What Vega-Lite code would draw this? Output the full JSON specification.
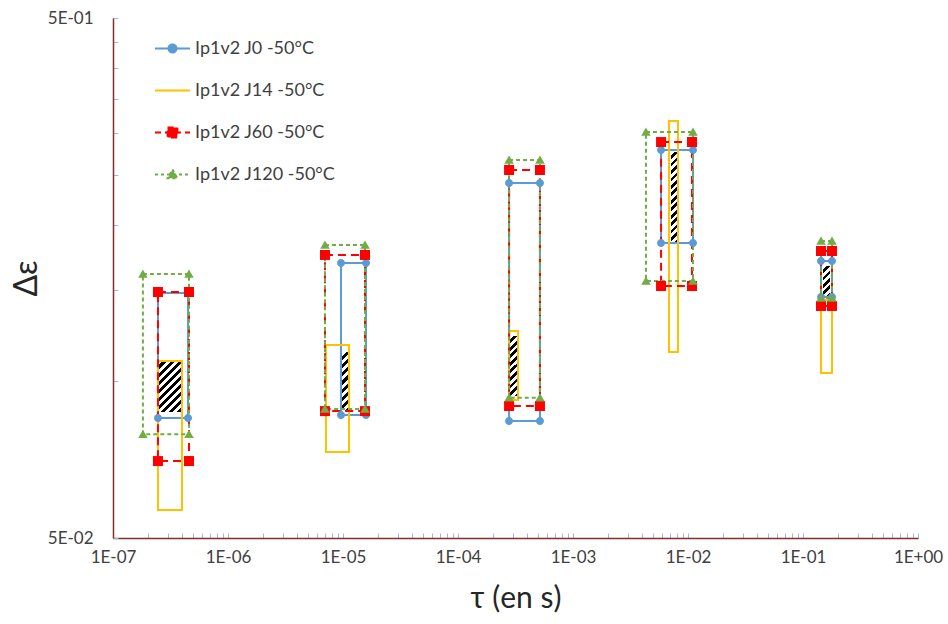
{
  "$schema": "https://vega.github.io/schema/vega-lite/v6.json",
  "width": 805,
  "height": 520,
  "autosize": {"type": "none"},
  "padding": {"left": 113, "top": 18, "right": 30, "bottom": 86},
  "background": "white",
  "config": {"view": {"stroke": null}, "font": "Lato"},
  "datasets": {
    "boxes": [
      {"cluster": 1, "series": "Ip1v2 J0 -50°C", "x1": 2.46e-7, "x2": 4.49e-7, "y1": 0.0851, "y2": 0.148},
      {"cluster": 1, "series": "Ip1v2 J14 -50°C", "x1": 2.46e-7, "x2": 3.98e-7, "y1": 0.0566, "y2": 0.1095},
      {"cluster": 1, "series": "Ip1v2 J60 -50°C", "x1": 2.46e-7, "x2": 4.58e-7, "y1": 0.0703, "y2": 0.1486},
      {"cluster": 1, "series": "Ip1v2 J120 -50°C", "x1": 1.82e-7, "x2": 4.58e-7, "y1": 0.0792, "y2": 0.161},
      {"cluster": 2, "series": "Ip1v2 J0 -50°C", "x1": 9.61e-6, "x2": 1.585e-5, "y1": 0.0862, "y2": 0.169},
      {"cluster": 2, "series": "Ip1v2 J14 -50°C", "x1": 7.11e-6, "x2": 1.128e-5, "y1": 0.0732, "y2": 0.1175},
      {"cluster": 2, "series": "Ip1v2 J60 -50°C", "x1": 6.97e-6, "x2": 1.554e-5, "y1": 0.0877, "y2": 0.1751},
      {"cluster": 2, "series": "Ip1v2 J120 -50°C", "x1": 6.97e-6, "x2": 1.554e-5, "y1": 0.0885, "y2": 0.183},
      {"cluster": 3, "series": "Ip1v2 J0 -50°C", "x1": 2.78e-4, "x2": 5.16e-4, "y1": 0.0839, "y2": 0.2408},
      {"cluster": 3, "series": "Ip1v2 J14 -50°C", "x1": 2.78e-4, "x2": 3.33e-4, "y1": 0.0921, "y2": 0.125},
      {"cluster": 3, "series": "Ip1v2 J60 -50°C", "x1": 2.78e-4, "x2": 5.16e-4, "y1": 0.0897, "y2": 0.2551},
      {"cluster": 3, "series": "Ip1v2 J120 -50°C", "x1": 2.78e-4, "x2": 5.16e-4, "y1": 0.093, "y2": 0.2667},
      {"cluster": 4, "series": "Ip1v2 J0 -50°C", "x1": 5.83e-3, "x2": 1.105e-2, "y1": 0.1847, "y2": 0.2787},
      {"cluster": 4, "series": "Ip1v2 J14 -50°C", "x1": 6.84e-3, "x2": 8.19e-3, "y1": 0.1139, "y2": 0.3169},
      {"cluster": 4, "series": "Ip1v2 J60 -50°C", "x1": 5.83e-3, "x2": 1.083e-2, "y1": 0.1526, "y2": 0.2887},
      {"cluster": 4, "series": "Ip1v2 J120 -50°C", "x1": 4.31e-3, "x2": 1.105e-2, "y1": 0.1561, "y2": 0.3018},
      {"cluster": 5, "series": "Ip1v2 J0 -50°C", "x1": 0.1434, "x2": 0.1787, "y1": 0.1454, "y2": 0.1705},
      {"cluster": 5, "series": "Ip1v2 J14 -50°C", "x1": 0.1434, "x2": 0.1787, "y1": 0.1038, "y2": 0.1434},
      {"cluster": 5, "series": "Ip1v2 J60 -50°C", "x1": 0.1434, "x2": 0.1787, "y1": 0.1397, "y2": 0.1782},
      {"cluster": 5, "series": "Ip1v2 J120 -50°C", "x1": 0.1434, "x2": 0.1787, "y1": 0.1447, "y2": 0.1863}
    ],
    "hatch": [
      {"cluster": 1, "x1": 2.51e-7, "x2": 3.9e-7, "y1": 0.0874, "y2": 0.1095},
      {"cluster": 2, "x1": 9.8e-6, "x2": 1.128e-5, "y1": 0.0877, "y2": 0.1139},
      {"cluster": 3, "x1": 2.83e-4, "x2": 3.33e-4, "y1": 0.0938, "y2": 0.1223},
      {"cluster": 4, "x1": 7.11e-3, "x2": 8.02e-3, "y1": 0.1847, "y2": 0.2762},
      {"cluster": 5, "x1": 0.1493, "x2": 0.1717, "y1": 0.146, "y2": 0.1668}
    ]
  },
  "layer": [
    {
      "data": {"name": "hatch"},
      "transform": [{"filter": "datum.cluster == 1"}],
      "mark": {"type": "rect", "fill": {"gradient": "linear", "x1": 0, "y1": 0, "x2": 0.5206, "y2": 1.2068, "stops": [
        {"offset": 0, "color": "#fff"}, {"offset": 0.0556, "color": "#fff"}, {"offset": 0.0556, "color": "#000"}, {"offset": 0.1111, "color": "#000"},
        {"offset": 0.1111, "color": "#fff"}, {"offset": 0.1667, "color": "#fff"}, {"offset": 0.1667, "color": "#000"}, {"offset": 0.2222, "color": "#000"},
        {"offset": 0.2222, "color": "#fff"}, {"offset": 0.2778, "color": "#fff"}, {"offset": 0.2778, "color": "#000"}, {"offset": 0.3333, "color": "#000"},
        {"offset": 0.3333, "color": "#fff"}, {"offset": 0.3889, "color": "#fff"}, {"offset": 0.3889, "color": "#000"}, {"offset": 0.4444, "color": "#000"},
        {"offset": 0.4444, "color": "#fff"}, {"offset": 0.5, "color": "#fff"}, {"offset": 0.5, "color": "#000"}, {"offset": 0.5556, "color": "#000"},
        {"offset": 0.5556, "color": "#fff"}, {"offset": 0.6111, "color": "#fff"}, {"offset": 0.6111, "color": "#000"}, {"offset": 0.6667, "color": "#000"},
        {"offset": 0.6667, "color": "#fff"}, {"offset": 0.7222, "color": "#fff"}, {"offset": 0.7222, "color": "#000"}, {"offset": 0.7778, "color": "#000"},
        {"offset": 0.7778, "color": "#fff"}, {"offset": 0.8333, "color": "#fff"}, {"offset": 0.8333, "color": "#000"}, {"offset": 0.8889, "color": "#000"},
        {"offset": 0.8889, "color": "#fff"}, {"offset": 0.9444, "color": "#fff"}, {"offset": 0.9444, "color": "#000"}, {"offset": 1, "color": "#000"}]}},
      "encoding": {
        "x": {"field": "x1", "type": "quantitative", "scale": {"type": "log", "domain": [1e-7, 1], "nice": false},
          "axis": {
            "values": [1e-7, 2e-7, 3e-7, 4e-7, 5e-7, 6e-7, 7e-7, 8e-7, 9e-7, 1e-6, 2e-6, 3e-6, 4e-6, 5e-6, 6e-6, 7e-6, 8e-6, 9e-6, 1e-5, 2e-5, 3e-5, 4e-5, 5e-5, 6e-5, 7e-5, 8e-5, 9e-5, 1e-4, 2e-4, 3e-4, 4e-4, 5e-4, 6e-4, 7e-4, 8e-4, 9e-4, 0.001, 0.002, 0.003, 0.004, 0.005, 0.006, 0.007, 0.008, 0.009, 0.01, 0.02, 0.03, 0.04, 0.05, 0.06, 0.07, 0.08, 0.09, 0.1, 0.2, 0.3, 0.4, 0.5, 0.6, 0.7, 0.8, 0.9, 1],
            "labelExpr": "abs(log(datum.value)/LN10 - round(log(datum.value)/LN10)) < 1e-6 ? ('1E' + (round(log(datum.value)/LN10) < 0 ? '-0' + (-round(log(datum.value)/LN10)) : '+00')) : ''",
            "title": "τ (en s)", "titleFont": "Lato", "titleFontSize": 30, "titleFontWeight": "normal", "titleColor": "#262626", "titlePadding": 18,
            "labelFont": "Lato", "labelFontSize": 17, "labelColor": "#404040", "labelPadding": 16, "labelFlush": false, "labelOverlap": false,
            "tickSize": -5, "tickColor": "#9bbbe0", "domainColor": "#8a2b2b", "domainWidth": 1.5, "grid": false
          }},
        "x2": {"field": "x2"},
        "y": {"field": "y1", "type": "quantitative", "scale": {"type": "log", "domain": [0.05, 0.5], "nice": false},
          "axis": {
            "values": [0.05, 0.1, 0.15, 0.2, 0.25, 0.3, 0.35, 0.4, 0.45, 0.5],
            "labelExpr": "abs(datum.value - 0.05) < 1e-9 ? '5E-02' : (abs(datum.value - 0.5) < 1e-9 ? '5E-01' : '')",
            "title": "Δε", "titleFont": "Lato", "titleFontSize": 32, "titleFontWeight": "normal", "titleColor": "#262626", "titlePadding": 4,
            "labelFont": "Lato", "labelFontSize": 17, "labelColor": "#404040", "labelPadding": 25, "labelFlush": false, "labelOverlap": false,
            "tickSize": -5, "tickColor": "#9bbbe0", "domainColor": "#8a2b2b", "domainWidth": 1.5, "grid": false
          }},
        "y2": {"field": "y2"}
      }
    },
    {
      "data": {"name": "hatch"},
      "transform": [{"filter": "datum.cluster == 2"}],
      "mark": {"type": "rect", "fill": {"gradient": "linear", "x1": 0, "y1": 0, "x2": 0.1309, "y2": 1.1031, "stops": [
        {"offset": 0, "color": "#fff"}, {"offset": 0.0625, "color": "#fff"}, {"offset": 0.0625, "color": "#000"}, {"offset": 0.125, "color": "#000"},
        {"offset": 0.125, "color": "#fff"}, {"offset": 0.1875, "color": "#fff"}, {"offset": 0.1875, "color": "#000"}, {"offset": 0.25, "color": "#000"},
        {"offset": 0.25, "color": "#fff"}, {"offset": 0.3125, "color": "#fff"}, {"offset": 0.3125, "color": "#000"}, {"offset": 0.375, "color": "#000"},
        {"offset": 0.375, "color": "#fff"}, {"offset": 0.4375, "color": "#fff"}, {"offset": 0.4375, "color": "#000"}, {"offset": 0.5, "color": "#000"},
        {"offset": 0.5, "color": "#fff"}, {"offset": 0.5625, "color": "#fff"}, {"offset": 0.5625, "color": "#000"}, {"offset": 0.625, "color": "#000"},
        {"offset": 0.625, "color": "#fff"}, {"offset": 0.6875, "color": "#fff"}, {"offset": 0.6875, "color": "#000"}, {"offset": 0.75, "color": "#000"},
        {"offset": 0.75, "color": "#fff"}, {"offset": 0.8125, "color": "#fff"}, {"offset": 0.8125, "color": "#000"}, {"offset": 0.875, "color": "#000"},
        {"offset": 0.875, "color": "#fff"}, {"offset": 0.9375, "color": "#fff"}, {"offset": 0.9375, "color": "#000"}, {"offset": 1, "color": "#000"}]}},
      "encoding": {
        "x": {"field": "x1", "type": "quantitative"},
        "x2": {"field": "x2"},
        "y": {"field": "y1", "type": "quantitative"},
        "y2": {"field": "y2"}
      }
    },
    {
      "data": {"name": "hatch"},
      "transform": [{"filter": "datum.cluster == 3"}],
      "mark": {"type": "rect", "fill": {"gradient": "linear", "x1": 0, "y1": 0, "x2": 0.1485, "y2": 1.1135, "stops": [
        {"offset": 0, "color": "#fff"}, {"offset": 0.0556, "color": "#fff"}, {"offset": 0.0556, "color": "#000"}, {"offset": 0.1111, "color": "#000"},
        {"offset": 0.1111, "color": "#fff"}, {"offset": 0.1667, "color": "#fff"}, {"offset": 0.1667, "color": "#000"}, {"offset": 0.2222, "color": "#000"},
        {"offset": 0.2222, "color": "#fff"}, {"offset": 0.2778, "color": "#fff"}, {"offset": 0.2778, "color": "#000"}, {"offset": 0.3333, "color": "#000"},
        {"offset": 0.3333, "color": "#fff"}, {"offset": 0.3889, "color": "#fff"}, {"offset": 0.3889, "color": "#000"}, {"offset": 0.4444, "color": "#000"},
        {"offset": 0.4444, "color": "#fff"}, {"offset": 0.5, "color": "#fff"}, {"offset": 0.5, "color": "#000"}, {"offset": 0.5556, "color": "#000"},
        {"offset": 0.5556, "color": "#fff"}, {"offset": 0.6111, "color": "#fff"}, {"offset": 0.6111, "color": "#000"}, {"offset": 0.6667, "color": "#000"},
        {"offset": 0.6667, "color": "#fff"}, {"offset": 0.7222, "color": "#fff"}, {"offset": 0.7222, "color": "#000"}, {"offset": 0.7778, "color": "#000"},
        {"offset": 0.7778, "color": "#fff"}, {"offset": 0.8333, "color": "#fff"}, {"offset": 0.8333, "color": "#000"}, {"offset": 0.8889, "color": "#000"},
        {"offset": 0.8889, "color": "#fff"}, {"offset": 0.9444, "color": "#fff"}, {"offset": 0.9444, "color": "#000"}, {"offset": 1, "color": "#000"}]}},
      "encoding": {
        "x": {"field": "x1", "type": "quantitative"},
        "x2": {"field": "x2"},
        "y": {"field": "y1", "type": "quantitative"},
        "y2": {"field": "y2"}
      }
    },
    {
      "data": {"name": "hatch"},
      "transform": [{"filter": "datum.cluster == 4"}],
      "mark": {"type": "rect", "fill": {"gradient": "linear", "x1": 0, "y1": 0, "x2": 0.07, "y2": 1.0613, "stops": [
        {"offset": 0, "color": "#fff"}, {"offset": 0.0385, "color": "#fff"}, {"offset": 0.0385, "color": "#000"}, {"offset": 0.0769, "color": "#000"},
        {"offset": 0.0769, "color": "#fff"}, {"offset": 0.1154, "color": "#fff"}, {"offset": 0.1154, "color": "#000"}, {"offset": 0.1538, "color": "#000"},
        {"offset": 0.1538, "color": "#fff"}, {"offset": 0.1923, "color": "#fff"}, {"offset": 0.1923, "color": "#000"}, {"offset": 0.2308, "color": "#000"},
        {"offset": 0.2308, "color": "#fff"}, {"offset": 0.2692, "color": "#fff"}, {"offset": 0.2692, "color": "#000"}, {"offset": 0.3077, "color": "#000"},
        {"offset": 0.3077, "color": "#fff"}, {"offset": 0.3462, "color": "#fff"}, {"offset": 0.3462, "color": "#000"}, {"offset": 0.3846, "color": "#000"},
        {"offset": 0.3846, "color": "#fff"}, {"offset": 0.4231, "color": "#fff"}, {"offset": 0.4231, "color": "#000"}, {"offset": 0.4615, "color": "#000"},
        {"offset": 0.4615, "color": "#fff"}, {"offset": 0.5, "color": "#fff"}, {"offset": 0.5, "color": "#000"}, {"offset": 0.5385, "color": "#000"},
        {"offset": 0.5385, "color": "#fff"}, {"offset": 0.5769, "color": "#fff"}, {"offset": 0.5769, "color": "#000"}, {"offset": 0.6154, "color": "#000"},
        {"offset": 0.6154, "color": "#fff"}, {"offset": 0.6538, "color": "#fff"}, {"offset": 0.6538, "color": "#000"}, {"offset": 0.6923, "color": "#000"},
        {"offset": 0.6923, "color": "#fff"}, {"offset": 0.7308, "color": "#fff"}, {"offset": 0.7308, "color": "#000"}, {"offset": 0.7692, "color": "#000"},
        {"offset": 0.7692, "color": "#fff"}, {"offset": 0.8077, "color": "#fff"}, {"offset": 0.8077, "color": "#000"}, {"offset": 0.8462, "color": "#000"},
        {"offset": 0.8462, "color": "#fff"}, {"offset": 0.8846, "color": "#fff"}, {"offset": 0.8846, "color": "#000"}, {"offset": 0.9231, "color": "#000"},
        {"offset": 0.9231, "color": "#fff"}, {"offset": 0.9615, "color": "#fff"}, {"offset": 0.9615, "color": "#000"}, {"offset": 1, "color": "#000"}]}},
      "encoding": {
        "x": {"field": "x1", "type": "quantitative"},
        "x2": {"field": "x2"},
        "y": {"field": "y1", "type": "quantitative"},
        "y2": {"field": "y2"}
      }
    },
    {
      "data": {"name": "hatch"},
      "transform": [{"filter": "datum.cluster == 5"}],
      "mark": {"type": "rect", "fill": {"gradient": "linear", "x1": 0, "y1": 0, "x2": 0.2729, "y2": 1.1697, "stops": [
        {"offset": 0, "color": "#fff"}, {"offset": 0.1, "color": "#fff"}, {"offset": 0.1, "color": "#000"}, {"offset": 0.2, "color": "#000"},
        {"offset": 0.2, "color": "#fff"}, {"offset": 0.3, "color": "#fff"}, {"offset": 0.3, "color": "#000"}, {"offset": 0.4, "color": "#000"},
        {"offset": 0.4, "color": "#fff"}, {"offset": 0.5, "color": "#fff"}, {"offset": 0.5, "color": "#000"}, {"offset": 0.6, "color": "#000"},
        {"offset": 0.6, "color": "#fff"}, {"offset": 0.7, "color": "#fff"}, {"offset": 0.7, "color": "#000"}, {"offset": 0.8, "color": "#000"},
        {"offset": 0.8, "color": "#fff"}, {"offset": 0.9, "color": "#fff"}, {"offset": 0.9, "color": "#000"}, {"offset": 1, "color": "#000"}]}},
      "encoding": {
        "x": {"field": "x1", "type": "quantitative"},
        "x2": {"field": "x2"},
        "y": {"field": "y1", "type": "quantitative"},
        "y2": {"field": "y2"}
      }
    },
    {
      "data": {"name": "boxes"},
      "transform": [{"filter": "datum.series == 'Ip1v2 J0 -50°C'"}],
      "mark": {"type": "rect", "filled": false, "fill": null, "stroke": "#5b9bd5", "strokeWidth": 2},
      "encoding": {"x": {"field": "x1", "type": "quantitative"}, "x2": {"field": "x2"}, "y": {"field": "y1", "type": "quantitative"}, "y2": {"field": "y2"}}
    },
    {
      "data": {"name": "boxes"},
      "transform": [{"filter": "datum.series == 'Ip1v2 J14 -50°C'"}],
      "mark": {"type": "rect", "filled": false, "fill": null, "stroke": "#ffc000", "strokeWidth": 2},
      "encoding": {"x": {"field": "x1", "type": "quantitative"}, "x2": {"field": "x2"}, "y": {"field": "y1", "type": "quantitative"}, "y2": {"field": "y2"}}
    },
    {
      "data": {"name": "boxes"},
      "transform": [{"filter": "datum.series == 'Ip1v2 J60 -50°C'"}],
      "mark": {"type": "rect", "filled": false, "fill": null, "stroke": "#ff0000", "strokeWidth": 2, "strokeDash": [8, 5]},
      "encoding": {"x": {"field": "x1", "type": "quantitative"}, "x2": {"field": "x2"}, "y": {"field": "y1", "type": "quantitative"}, "y2": {"field": "y2"}}
    },
    {
      "data": {"name": "boxes"},
      "transform": [{"filter": "datum.series == 'Ip1v2 J120 -50°C'"}],
      "mark": {"type": "rect", "filled": false, "fill": null, "stroke": "#70ad47", "strokeWidth": 2, "strokeDash": [4, 3]},
      "encoding": {"x": {"field": "x1", "type": "quantitative"}, "x2": {"field": "x2"}, "y": {"field": "y1", "type": "quantitative"}, "y2": {"field": "y2"}}
    },
    {
      "data": {"name": "boxes"},
      "transform": [{"filter": "datum.series == 'Ip1v2 J0 -50°C'"}],
      "layer": [
        {"mark": {"type": "point", "filled": true, "size": 100, "opacity": 1, "color": "#5b9bd5", "shape": "M-0.8,0 A0.8,0.8 0 1,0 0.8,0 A0.8,0.8 0 1,0 -0.8,0 Z"},
          "encoding": {"x": {"field": "x1", "type": "quantitative"}, "y": {"field": "y1", "type": "quantitative"}}},
        {"mark": {"type": "point", "filled": true, "size": 100, "opacity": 1, "color": "#5b9bd5", "shape": "M-0.8,0 A0.8,0.8 0 1,0 0.8,0 A0.8,0.8 0 1,0 -0.8,0 Z"},
          "encoding": {"x": {"field": "x1", "type": "quantitative"}, "y": {"field": "y2", "type": "quantitative"}}},
        {"mark": {"type": "point", "filled": true, "size": 100, "opacity": 1, "color": "#5b9bd5", "shape": "M-0.8,0 A0.8,0.8 0 1,0 0.8,0 A0.8,0.8 0 1,0 -0.8,0 Z"},
          "encoding": {"x": {"field": "x2", "type": "quantitative"}, "y": {"field": "y1", "type": "quantitative"}}},
        {"mark": {"type": "point", "filled": true, "size": 100, "opacity": 1, "color": "#5b9bd5", "shape": "M-0.8,0 A0.8,0.8 0 1,0 0.8,0 A0.8,0.8 0 1,0 -0.8,0 Z"},
          "encoding": {"x": {"field": "x2", "type": "quantitative"}, "y": {"field": "y2", "type": "quantitative"}}}
      ]
    },
    {
      "data": {"name": "boxes"},
      "transform": [{"filter": "datum.series == 'Ip1v2 J60 -50°C'"}],
      "layer": [
        {"mark": {"type": "point", "filled": true, "size": 100, "opacity": 1, "color": "#ff0000", "shape": "M-1,-1 L1,-1 L1,1 L-1,1 Z"},
          "encoding": {"x": {"field": "x1", "type": "quantitative"}, "y": {"field": "y1", "type": "quantitative"}}},
        {"mark": {"type": "point", "filled": true, "size": 100, "opacity": 1, "color": "#ff0000", "shape": "M-1,-1 L1,-1 L1,1 L-1,1 Z"},
          "encoding": {"x": {"field": "x1", "type": "quantitative"}, "y": {"field": "y2", "type": "quantitative"}}},
        {"mark": {"type": "point", "filled": true, "size": 100, "opacity": 1, "color": "#ff0000", "shape": "M-1,-1 L1,-1 L1,1 L-1,1 Z"},
          "encoding": {"x": {"field": "x2", "type": "quantitative"}, "y": {"field": "y1", "type": "quantitative"}}},
        {"mark": {"type": "point", "filled": true, "size": 100, "opacity": 1, "color": "#ff0000", "shape": "M-1,-1 L1,-1 L1,1 L-1,1 Z"},
          "encoding": {"x": {"field": "x2", "type": "quantitative"}, "y": {"field": "y2", "type": "quantitative"}}}
      ]
    },
    {
      "data": {"name": "boxes"},
      "transform": [{"filter": "datum.series == 'Ip1v2 J120 -50°C'"}],
      "layer": [
        {"mark": {"type": "point", "filled": true, "size": 100, "opacity": 1, "color": "#70ad47", "shape": "M0,-0.9 L0.95,0.75 L-0.95,0.75 Z"},
          "encoding": {"x": {"field": "x1", "type": "quantitative"}, "y": {"field": "y1", "type": "quantitative"}}},
        {"mark": {"type": "point", "filled": true, "size": 100, "opacity": 1, "color": "#70ad47", "shape": "M0,-0.9 L0.95,0.75 L-0.95,0.75 Z"},
          "encoding": {"x": {"field": "x1", "type": "quantitative"}, "y": {"field": "y2", "type": "quantitative"}}},
        {"mark": {"type": "point", "filled": true, "size": 100, "opacity": 1, "color": "#70ad47", "shape": "M0,-0.9 L0.95,0.75 L-0.95,0.75 Z"},
          "encoding": {"x": {"field": "x2", "type": "quantitative"}, "y": {"field": "y1", "type": "quantitative"}}},
        {"mark": {"type": "point", "filled": true, "size": 100, "opacity": 1, "color": "#70ad47", "shape": "M0,-0.9 L0.95,0.75 L-0.95,0.75 Z"},
          "encoding": {"x": {"field": "x2", "type": "quantitative"}, "y": {"field": "y2", "type": "quantitative"}}}
      ]
    },
    {
      "data": {"name": "boxes"},
      "mark": {"type": "point", "filled": true, "size": 1225, "opacity": 0},
      "encoding": {
        "x": {"field": "x1", "type": "quantitative"},
        "y": {"field": "y1", "type": "quantitative"},
        "color": {"field": "series", "type": "nominal",
          "scale": {"domain": ["Ip1v2 J0 -50°C", "Ip1v2 J14 -50°C", "Ip1v2 J60 -50°C", "Ip1v2 J120 -50°C"], "range": ["#5b9bd5", "#ffc000", "#ff0000", "#70ad47"]},
          "legend": {"orient": "none", "legendX": 41, "legendY": 12, "title": null, "padding": 0, "rowPadding": 14, "symbolSize": 1225, "symbolStrokeWidth": 2, "symbolOpacity": 1, "labelFont": "Lato", "labelFontSize": 18, "labelColor": "#404040", "labelOffset": 4}},
        "stroke": {"field": "series", "type": "nominal",
          "scale": {"domain": ["Ip1v2 J0 -50°C", "Ip1v2 J14 -50°C", "Ip1v2 J60 -50°C", "Ip1v2 J120 -50°C"], "range": ["#5b9bd5", "#ffc000", "#ff0000", "#70ad47"]},
          "legend": {"orient": "none", "legendX": 41, "legendY": 12, "title": null, "padding": 0, "rowPadding": 14, "symbolSize": 1225, "symbolStrokeWidth": 2, "symbolOpacity": 1, "labelFont": "Lato", "labelFontSize": 18, "labelColor": "#404040", "labelOffset": 4}},
        "strokeDash": {"field": "series", "type": "nominal",
          "scale": {"domain": ["Ip1v2 J0 -50°C", "Ip1v2 J14 -50°C", "Ip1v2 J60 -50°C", "Ip1v2 J120 -50°C"], "range": [[1, 0], [1, 0], [6, 4], [3, 3]]},
          "legend": {"orient": "none", "legendX": 41, "legendY": 12, "title": null, "padding": 0, "rowPadding": 14, "symbolSize": 1225, "symbolStrokeWidth": 2, "symbolOpacity": 1, "labelFont": "Lato", "labelFontSize": 18, "labelColor": "#404040", "labelOffset": 4}},
        "shape": {"field": "series", "type": "nominal",
          "scale": {"domain": ["Ip1v2 J0 -50°C", "Ip1v2 J14 -50°C", "Ip1v2 J60 -50°C", "Ip1v2 J120 -50°C"],
                    "range": ["M-1,0 L1,0 M-0.23,0 A0.23,0.23 0 1,0 0.23,0 A0.23,0.23 0 1,0 -0.23,0 Z", "M-1,0 L1,0", "M-1,0 L1,0 M-0.28,-0.28 L0.28,-0.28 L0.28,0.28 L-0.28,0.28 Z", "M-1,0 L1,0 M0,-0.28 L0.28,0.22 L-0.28,0.22 Z"]},
          "legend": {"orient": "none", "legendX": 41, "legendY": 12, "title": null, "padding": 0, "rowPadding": 14, "symbolSize": 1225, "symbolStrokeWidth": 2, "symbolOpacity": 1, "labelFont": "Lato", "labelFontSize": 18, "labelColor": "#404040", "labelOffset": 4}}
      }
    }
  ]
}
